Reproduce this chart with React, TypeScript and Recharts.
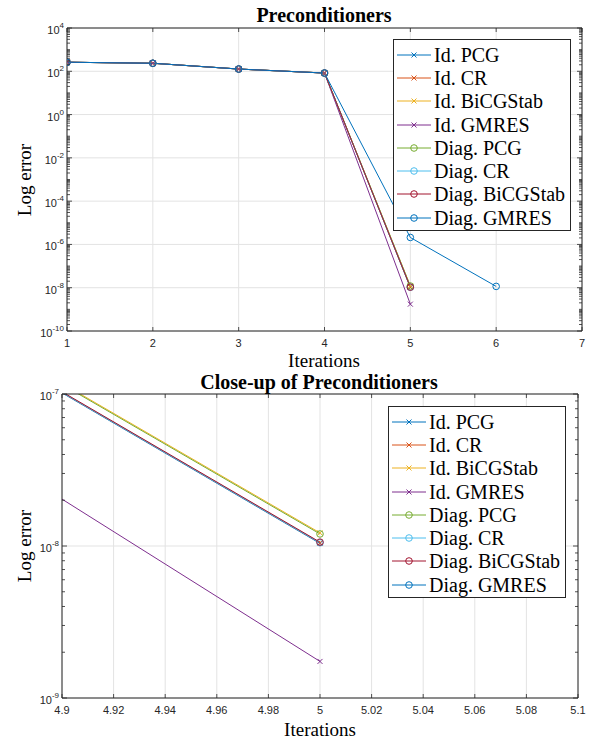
import React from 'react';
import { LineChart, Line, XAxis, YAxis, CartesianGrid, Legend } from 'recharts';

const SERIF = '"Liberation Serif", "Times New Roman", serif';
const SANS = '"Liberation Sans", Arial, Helvetica, sans-serif';
const AX = '#262626';
const GRID = '#e3e3e3';

// data
const iterations = [1, 2, 3, 4, 5, 6];
const idPcg = [262, 235, 127, 83, 1.04e-8, null];
const idCr = [262, 235, 127, 83, 1.05e-8, null];
const idBicgstab = [262, 235, 127, 83, 1.22e-8, null];
const idGmres = [262, 235, 127, 83, 1.74e-9, null];
const diagPcg = [262, 235, 127, 83, 1.2e-8, null];
const diagCr = [262, 235, 127, 83, 1.05e-8, null];
const diagBicgstab = [262, 235, 127, 83, 1.06e-8, null];
const diagGmres = [262, 235, 127, 83, 2.1e-6, 1.15e-8];

const seriesNames = ['Id. PCG', 'Id. CR', 'Id. BiCGStab', 'Id. GMRES', 'Diag. PCG', 'Diag. CR', 'Diag. BiCGStab', 'Diag. GMRES'];
const seriesColors = ['#0072BD', '#D95319', '#EDB120', '#7E2F8E', '#77AC30', '#4DBEEE', '#A2142F', '#0072BD'];
const seriesMarkers = ['x', 'x', 'x', 'x', 'o', 'o', 'o', 'o'];
const seriesValues = [idPcg, idCr, idBicgstab, idGmres, diagPcg, diagCr, diagBicgstab, diagGmres];

const xTicks = [1, 2, 3, 4, 5, 6, 7];
const yMajors = [1e4, 1e2, 1, 1e-2, 1e-4, 1e-6, 1e-8, 1e-10];
const xZoomTicks = [4.9, 4.92, 4.94, 4.96, 4.98, 5, 5.02, 5.04, 5.06, 5.08, 5.1];
const yZoomMajors = [1e-7, 1e-8, 1e-9];

const minorTicks = (fromExp: number, toExp: number) => {
  const out: number[] = [];
  for (let e = fromExp; e < toExp; e++) {
    for (let k = 1; k < 10; k++) out.push(k * Math.pow(10, e));
  }
  out.push(Math.pow(10, toExp));
  return out;
};
const yTicksAll = minorTicks(-10, 4);
const yZoomTicksAll = minorTicks(-9, -7);

const rows = iterations.map((it, i) => {
  const r: Record<string, number | null> = { it };
  seriesValues.forEach((vals, s) => {
    r['s' + s] = vals[i];
  });
  return r;
});

const isMajor = (v: number, majors: number[]) =>
  majors.some(m => Math.abs(m - v) <= Math.abs(m) * 1e-6);

const Marker = ({ cx, cy, color, shape }: { cx: number; cy: number; color: string; shape: string }) =>
  shape === 'x' ? (
    <path
      d={`M${cx - 2.5},${cy - 2.5}L${cx + 2.5},${cy + 2.5}M${cx - 2.5},${cy + 2.5}L${cx + 2.5},${cy - 2.5}`}
      stroke={color}
      strokeWidth={1}
      fill="none"
    />
  ) : (
    <circle cx={cx} cy={cy} r={3.3} stroke={color} strokeWidth={1} fill="none" />
  );

const dotFor = (color: string, shape: string) => (p: any) => {
  const { cx, cy, index, value } = p;
  if (cx == null || cy == null || value == null) return <g key={`d-${index}`} />;
  return (
    <g key={`d-${index}`}>
      <Marker cx={cx} cy={cy} color={color} shape={shape} />
    </g>
  );
};

const leftLogTick = (majors: number[]) => (p: any) => {
  const { x, y, payload } = p;
  const v = payload.value;
  const major = isMajor(v, majors);
  return (
    <g>
      <line x1={x} x2={x + (major ? 5 : 3)} y1={y} y2={y} stroke={AX} strokeWidth={0.8} />
      {major && (
        <text x={x - 3} y={y + 6} textAnchor="end" fontFamily={SANS} fontSize={11} fill={AX}>
          10
          <tspan dy={-6} fontSize={8}>
            {Math.round(Math.log10(v))}
          </tspan>
        </text>
      )}
    </g>
  );
};

const rightLogTick = (majors: number[]) => (p: any) => {
  const { x, y, payload } = p;
  const major = isMajor(payload.value, majors);
  return <line x1={x} x2={x - (major ? 5 : 3)} y1={y} y2={y} stroke={AX} strokeWidth={0.8} />;
};

const fmtX = (v: number) => String(Number(v.toFixed(2)));

const bottomTick = (p: any) => {
  const { x, y, payload } = p;
  return (
    <g>
      <line x1={x} x2={x} y1={y} y2={y - 4} stroke={AX} strokeWidth={0.8} />
      <text x={x} y={y + 16} textAnchor="middle" fontFamily={SANS} fontSize={11} fill={AX}>
        {fmtX(payload.value)}
      </text>
    </g>
  );
};

const topTick = (p: any) => {
  const { x, y } = p;
  return <line x1={x} x2={x} y1={y} y2={y + 4} stroke={AX} strokeWidth={0.8} />;
};

const LegendBox = () => (
  <div
    style={{
      boxSizing: 'border-box',
      width: 178,
      border: `1px solid ${AX}`,
      background: '#fff',
      padding: '3px 0 1px 0',
    }}
  >
    {seriesNames.map((name, i) => (
      <div key={name} style={{ display: 'flex', alignItems: 'center', height: 23.3 }}>
        <svg width={37} height={14} style={{ flex: 'none', marginLeft: 3 }}>
          <line x1={0} x2={34} y1={7} y2={7} stroke={seriesColors[i]} strokeWidth={1} />
          <Marker cx={17} cy={7} color={seriesColors[i]} shape={seriesMarkers[i]} />
        </svg>
        <span style={{ fontFamily: SERIF, fontSize: 20, color: '#000', lineHeight: '20px', whiteSpace: 'nowrap' }}>
          {name}
        </span>
      </div>
    ))}
  </div>
);

interface PanelProps {
  xDomain: [number, number];
  xTickValues: number[];
  yDomain: [number, number];
  yTickValues: number[];
  yMajorValues: number[];
  leftW: number;
  rightW: number;
  topH: number;
  bottomH: number;
  legendLeft: number;
  legendTop: number;
}

const Panel: React.FC<PanelProps> = ({
  xDomain, xTickValues, yDomain, yTickValues, yMajorValues, leftW, rightW, topH, bottomH, legendLeft, legendTop,
}) => (
  <LineChart width={590} height={372} data={rows} margin={{ top: 0, right: 0, bottom: 0, left: 0 }}>
    <CartesianGrid stroke={GRID} horizontalValues={yMajorValues} verticalValues={xTickValues} />
    <XAxis
      dataKey="it"
      type="number"
      domain={xDomain}
      ticks={xTickValues}
      interval={0}
      allowDataOverflow
      height={bottomH}
      tickSize={0}
      tickMargin={0}
      tickLine={false}
      axisLine={{ stroke: AX }}
      tick={bottomTick}
    />
    <XAxis
      xAxisId="top"
      dataKey="it"
      type="number"
      orientation="top"
      domain={xDomain}
      ticks={xTickValues}
      interval={0}
      allowDataOverflow
      height={topH}
      tickSize={0}
      tickMargin={0}
      tickLine={false}
      axisLine={{ stroke: AX }}
      tick={topTick}
    />
    <YAxis
      type="number"
      scale="log"
      domain={yDomain}
      ticks={yTickValues}
      interval={0}
      allowDataOverflow
      width={leftW}
      tickSize={0}
      tickMargin={0}
      tickLine={false}
      axisLine={{ stroke: AX }}
      tick={leftLogTick(yMajorValues)}
    />
    <YAxis
      yAxisId="right"
      orientation="right"
      type="number"
      scale="log"
      domain={yDomain}
      ticks={yTickValues}
      interval={0}
      allowDataOverflow
      width={rightW}
      tickSize={0}
      tickMargin={0}
      tickLine={false}
      axisLine={{ stroke: AX }}
      tick={rightLogTick(yMajorValues)}
    />
    {seriesNames.map((name, i) => (
      <Line
        key={name}
        type="linear"
        dataKey={'s' + i}
        name={name}
        stroke={seriesColors[i]}
        strokeWidth={1}
        dot={dotFor(seriesColors[i], seriesMarkers[i])}
        activeDot={false}
        isAnimationActive={false}
      />
    ))}
    <Legend
      layout="vertical"
      align="center"
      verticalAlign="middle"
      content={<LegendBox />}
      wrapperStyle={{ left: legendLeft, top: legendTop, width: 178, right: 'auto', bottom: 'auto' }}
    />
  </LineChart>
);

export default function App() {
  return (
    <div style={{ position: 'absolute', left: 0, top: 0, width: 590, height: 744, background: '#fff' }}>
      <Panel
        xDomain={[1, 7]}
        xTickValues={xTicks}
        yDomain={[1e-10, 1e4]}
        yTickValues={yTicksAll}
        yMajorValues={yMajors}
        leftW={67}
        rightW={8}
        topH={28}
        bottomH={41}
        legendLeft={393}
        legendTop={39}
      />
      <Panel
        xDomain={[4.9, 5.1]}
        xTickValues={xZoomTicks}
        yDomain={[1e-9, 1e-7]}
        yTickValues={yZoomTicksAll}
        yMajorValues={yZoomMajors}
        leftW={62}
        rightW={12}
        topH={22}
        bottomH={46}
        legendLeft={388}
        legendTop={34}
      />
      <svg
        width={590}
        height={744}
        style={{ position: 'absolute', left: 0, top: 0, pointerEvents: 'none' }}
      >
        <text x={324} y={21.5} textAnchor="middle" fontFamily={SERIF} fontSize={20} fontWeight="bold" fill="#000">
          Preconditioners
        </text>
        <text x={324} y={367} textAnchor="middle" fontFamily={SERIF} fontSize={19} fill="#000">
          Iterations
        </text>
        <text x={31} y={180} textAnchor="middle" fontFamily={SERIF} fontSize={19} fill="#000" transform="rotate(-90 31 180)">
          Log error
        </text>
        <text x={319} y={389} textAnchor="middle" fontFamily={SERIF} fontSize={20} fontWeight="bold" fill="#000">
          Close-up of Preconditioners
        </text>
        <text x={320} y={736} textAnchor="middle" fontFamily={SERIF} fontSize={19} fill="#000">
          Iterations
        </text>
        <text x={31} y={546} textAnchor="middle" fontFamily={SERIF} fontSize={19} fill="#000" transform="rotate(-90 31 546)">
          Log error
        </text>
      </svg>
    </div>
  );
}
